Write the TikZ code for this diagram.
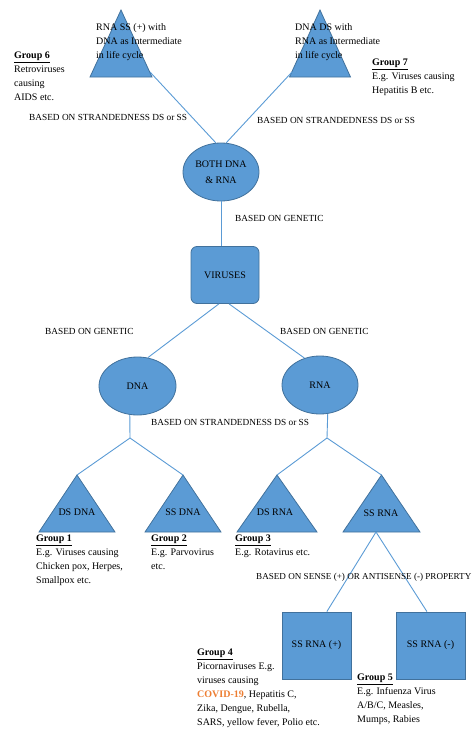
\documentclass[tikz,border=0pt]{standalone}
\usepackage{fontspec}
\setmainfont{Liberation Serif}
\usetikzlibrary{shapes.geometric,backgrounds,positioning}
\definecolor{vblue}{HTML}{5B9BD5}
\definecolor{vedge}{HTML}{41719C}
\definecolor{covid}{HTML}{ED7D31}
\newcommand{\grp}[1]{\textbf{\underline{Group #1}}}

\tikzset{
  txt/.style={font=\fontsize{10}{14}\selectfont},
  lbl/.style={font=\fontsize{9.3}{11}\selectfont, inner sep=0, anchor=west},
  gtext/.style={txt, align=left, anchor=north west, inner sep=0},
  oval/.style={ellipse, fill=vblue, draw=vedge, line width=0.8pt, minimum width=76pt, minimum height=58pt, txt, align=center, inner sep=0},
  vbox/.style={rectangle, fill=vblue, draw=vedge, line width=0.8pt, txt},
  tri/.style={fill=vblue, draw=vedge, line width=0.8pt},
  link/.style={draw=vblue, line width=0.9pt}
}

\begin{document}
\begin{tikzpicture}[x=1pt,y=-1pt]
\useasboundingbox (0,0) rectangle (476,731);
% top triangles
\coordinate (t6) at (121,10);
\coordinate (t7) at (320,10);
\draw[tri] (t6) -- ++(31,67) -- ++(-62,0) -- cycle;
\draw[tri] (t7) -- ++(30.5,67) -- ++(-61,0) -- cycle;
\node[gtext] (t6txt) at (96,23) {RNA SS (+) with\\DNA as Intermediate\\in life cycle};
\node[gtext] (t7txt) at (295,23) {DNA DS with\\RNA as Intermediate\\in life cycle};
\coordinate (t6e) at (150,72);
\coordinate (t7e) at (292,72);
\node[gtext] (g6) at (14,52) {\grp{6}\\Retroviruses\\causing\\AIDS etc.};
\node[gtext] (g7) at (372,59) {\grp{7}\\E.g. Viruses causing\\Hepatitis B etc.};
% middle
\node[oval, font=\fontsize{10}{16}\selectfont] (both) at (221,172) {BOTH DNA\\\& RNA};
\node[vbox, minimum width=68pt, minimum height=57pt, rounded corners=6pt] (vir) at (225,275) {VIRUSES};
\node[oval, minimum width=77pt] (dna) at (137.5,386) {DNA};
\node[oval] (rna) at (320,385) {RNA};
\coordinate (dnaj) at (130,438);
\coordinate (rnaj) at (327,438);
% bottom triangles
\coordinate (dsdna) at (77,475);
\coordinate (ssdna) at (183,475);
\coordinate (dsrna) at (277,475);
\coordinate (ssrna) at (381.5,475);
\draw[tri] (dsdna) -- ++(38,57) -- ++(-76,0) -- cycle;
\draw[tri] (ssdna) -- ++(38,57) -- ++(-76,0) -- cycle;
\draw[tri] (dsrna) -- ++(40,57) -- ++(-80,0) -- cycle;
\draw[tri] (ssrna) -- ++(38.5,57) -- ++(-77,0) -- cycle;
\node[txt] (dsdnat) at (77,512) {DS DNA};
\node[txt] (ssdnat) at (183,512) {SS DNA};
\node[txt] (dsrnat) at (275,512) {DS RNA};
\node[txt] (ssrnat) at (381,513) {SS RNA};
\coordinate (ssrb) at (376,532);
\node[gtext] (g1) at (36,535) {\grp{1}\\E.g. Viruses causing\\Chicken pox, Herpes,\\Smallpox etc.};
\node[gtext] (g2) at (151,535) {\grp{2}\\E.g. Parvovirus\\etc.};
\node[gtext] (g3) at (235,535) {\grp{3}\\E.g. Rotavirus etc.};
\node[vbox, minimum width=69pt, minimum height=67pt] (ssp) at (316.5,645.5) {SS RNA (+)};
\node[vbox, minimum width=69pt, minimum height=67pt] (ssm) at (430.5,645.5) {SS RNA (-)};
\node[gtext] (g4) at (197,649) {\grp{4}\\Picornaviruses E.g.\\viruses causing\\\textcolor{covid}{\textbf{COVID-19}}, Hepatitis C,\\Zika, Dengue, Rubella,\\SARS, yellow fever, Polio etc.};
\node[gtext] (g5) at (357,674) {\grp{5}\\E.g. Infuenza Virus\\A/B/C, Measles,\\Mumps, Rabies};
% connectors
\draw[link] (t6e) -- (both.100);
\draw[link] (t7e) -- (both.80);
\draw[link] (both.south) -- (both.south |- vir.north);
\draw[link] (vir.258) -- (dna.70);
\draw[link] (vir.278) -- (rna.120);
\draw[link] (dna.255) -- (dnaj);
\draw[link] (dnaj) -- (dsdna);
\draw[link] (dnaj) -- (ssdna);
\draw[link] (rna.285) -- (rnaj);
\draw[link] (rnaj) -- (dsrna);
\draw[link] (rnaj) -- (ssrna);
\draw[link] (ssrb) -- (ssp.73);
\draw[link] (ssrb) -- (ssm.96);
% labels
\node[lbl] (l1) at (29,117) {BASED ON STRANDEDNESS DS or SS};
\node[lbl] (l2) at (257,120) {BASED ON STRANDEDNESS DS or SS};
\node[lbl] (l3) at (235,218) {BASED ON GENETIC};
\node[lbl] (l4) at (45,331) {BASED ON GENETIC};
\node[lbl] (l5) at (280,331) {BASED ON GENETIC};
\node[lbl] (l6) at (151,422) {BASED ON STRANDEDNESS DS or SS};
\node[lbl, font=\fontsize{9.1}{11}\selectfont] (l7) at (256,577) {BASED ON SENSE (+) OR ANTISENSE (-) PROPERTY};
\end{tikzpicture}
\end{document}
